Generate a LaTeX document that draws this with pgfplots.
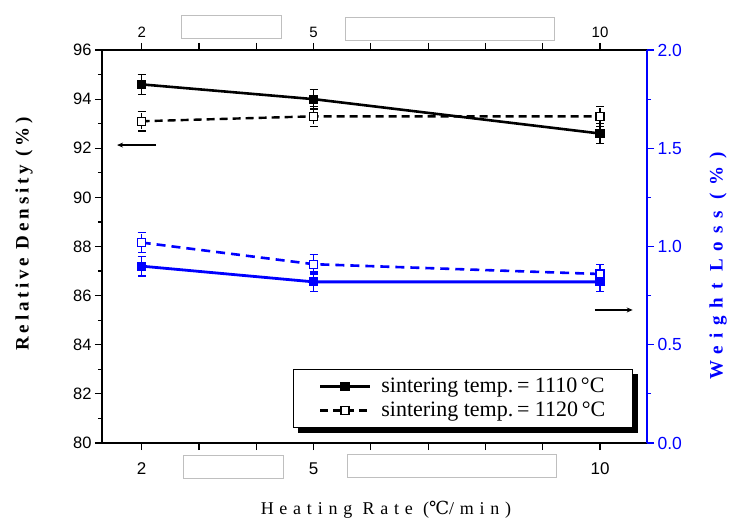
\documentclass[border=0pt]{standalone}
\usepackage{fontspec}
\setmainfont{Liberation Sans}
\newfontfamily\ylabfont{Liberation Serif}[LetterSpace=20]
\newfontfamily\ylabfontR{Liberation Serif}[LetterSpace=40]
\newfontfamily\xlabfont{Liberation Serif}[LetterSpace=32]
\newfontfamily\legendfont{Liberation Serif}
\newfontfamily\symfont{DejaVu Serif}
\usepackage{pgfplots}
\pgfplotsset{compat=1.18}
\usetikzlibrary{arrows.meta}

% density data (left axis)
\pgfplotstableread{
x   y     e
2   94.6  0.4
5   94.0  0.4
10  92.6  0.4
}\densA
\pgfplotstableread{
x   y     e
2   93.1  0.4
5   93.3  0.4
10  93.3  0.4
}\densB
% weight loss data (right axis)
\pgfplotstableread{
x   y     e
2   0.90  0.05
5   0.82  0.05
10  0.82  0.05
}\lossA
\pgfplotstableread{
x   y     e
2   1.02  0.05
5   0.91  0.05
10  0.86  0.05
}\lossB

\pgfplotsset{
  common/.style={
    at={(102pt,80pt)}, anchor=south west,
    width=545pt, height=393pt, scale only axis,
    xmin=1.307, xmax=10.82,
    xtick={2,...,10},
    xticklabels={2,,,5,,,,,10},
    tick align=outside,
    major tick length=7pt, minor tick length=4pt,
    /pgf/number format/assume math mode=true,
    x axis line style={-, line width=1.5pt},
    y axis line style={-, line width=1.5pt},
    every tick/.style={line width=1.2pt},
    errbar/.style={
      error bars/.cd, y dir=both, y explicit,
      error bar style={line width=1.2pt},
      error mark options={rotate=90, mark size=4pt, line width=1.2pt},
    },
  },
}

\begin{document}
\begin{tikzpicture}[x=1pt,y=1pt]
\useasboundingbox (0,0) rectangle (729,523);

\begin{axis}[common,
  axis x line*=bottom, axis y line*=left,
  ymin=80, ymax=96, ytick={80,82,...,96}, minor y tick num=1,
  tick style={black},
  xticklabel style={font=\fontsize{17}{19}\selectfont, yshift=-9pt},
  yticklabel style={font=\fontsize{16.5}{19}\selectfont},
  legend style={
    name=leg,
    at={(0.974,0.038)}, anchor=south east,
    draw=black, line width=1.2pt, fill=white,
    font=\legendfont\fontsize{22}{24}\selectfont,
    inner xsep=25pt, inner ysep=7pt, row sep=4pt,
    /tikz/every odd column/.append style={column sep=8pt},
  },
  legend cell align=left,
  legend image code/.code={
    \draw[mark repeat=2, mark phase=2, #1]
      plot coordinates {(0pt,0pt) (25pt,0pt) (50pt,0pt)};},
]
\addplot[black, line width=2.6pt, mark=square*, mark size=4pt,
  mark options={solid, line width=1.2pt}, errbar]
  table[x=x, y=y, y error=e] {\densA};
\addlegendentry{sintering temp.\,= 1110\,°C}
\addplot[black, line width=2.4pt, dash pattern=on 8pt off 5pt,
  mark=square*, mark size=4pt,
  mark options={solid, fill=white, line width=1.2pt}, errbar]
  table[x=x, y=y, y error=e] {\densB};
\addlegendentry{sintering temp.\,= 1120\,°C}
% arrow pointing to the density axis
\draw[-{Stealth[length=6pt, width=5pt]}, line width=1.2pt] (axis cs:2.25,92.13) -- (axis cs:1.57,92.13);
\end{axis}

% solid shadow along the right and lower edges of the legend box
\fill[black] ([yshift=-5pt]leg.north east) rectangle ([xshift=5pt,yshift=-5pt]leg.south east);
\fill[black] ([xshift=5pt]leg.south west) rectangle ([xshift=5pt,yshift=-5pt]leg.south east);

\begin{axis}[common,
  axis x line*=top, axis y line*=right,
  ymin=0, ymax=2, ytick={0,0.5,...,2}, minor y tick num=1,
  y axis line style={blue},
  x tick style={black}, y tick style={blue},
  xticklabel style={font=\fontsize{15}{17}\selectfont, yshift=2pt},
  yticklabel style={font=\fontsize{17.5}{19}\selectfont, text=blue,
    /pgf/number format/.cd, fixed, fixed zerofill, precision=1},
]
\addplot[blue, line width=2.8pt, mark=square*, mark size=4pt,
  mark options={solid, line width=1.2pt}, errbar]
  table[x=x, y=y, y error=e] {\lossA};
\addplot[blue, line width=2.6pt, dash pattern=on 9pt off 6pt,
  mark=square*, mark size=4pt,
  mark options={solid, fill=white, line width=1.2pt}, errbar]
  table[x=x, y=y, y error=e] {\lossB};
% arrow pointing to the weight-loss axis
\draw[-{Stealth[length=6pt, width=5pt]}, line width=1.2pt] (axis cs:9.91,0.677) -- (axis cs:10.57,0.677);
\end{axis}

% blank label boxes along the top and bottom axes
\draw[black!25, line width=0.8pt, fill=white] (181,508) rectangle (281,485);
\draw[black!25, line width=0.8pt, fill=white] (345,506) rectangle (554,483);
\draw[black!25, line width=0.8pt, fill=white] (183,68) rectangle (283,45);
\draw[black!25, line width=0.8pt, fill=white] (347,69) rectangle (556,46);

% axis titles
\node[rotate=90] at (24,289)
  {\ylabfont\bfseries\fontsize{19}{21}\selectfont Relative Density (\%)};
\node[rotate=90, text=blue] at (718,257)
  {\ylabfontR\bfseries\fontsize{19}{21}\selectfont Weight Loss (\%)};
\node at (386,13)
  {\xlabfont\fontsize{18}{20}\selectfont Heating Rate ({\symfont ℃}/min)};
\end{tikzpicture}
\end{document}
